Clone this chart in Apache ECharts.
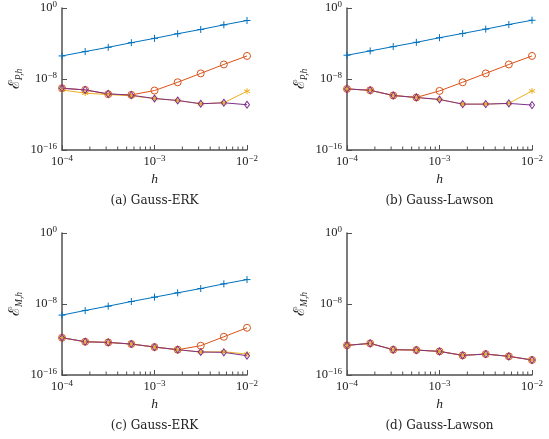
<!DOCTYPE html>
<html>
<head>
<meta charset="utf-8">
<script src="https://cdn.jsdelivr.net/npm/echarts@6/dist/echarts.min.js"></script>
<style>
  html, body { margin: 0; padding: 0; background: #fff; }
  #chart { width: 549px; height: 439px; }
</style>
</head>
<body>
<div id="chart"></div>
<script>
// step sizes h (x axis)
const hValues = [1e-4, 1.78e-4, 3.16e-4, 5.62e-4, 1e-3, 1.78e-3, 3.16e-3, 5.62e-3, 1e-2];
const minorTicks = [2e-4, 3e-4, 4e-4, 5e-4, 6e-4, 7e-4, 8e-4, 9e-4,
                    2e-3, 3e-3, 4e-3, 5e-3, 6e-3, 7e-3, 8e-3, 9e-3];

// (a) Gauss-ERK, position error
const aBlue   = [3.98e-6, 1.23e-5, 3.72e-5, 1.23e-4, 3.80e-4, 1.26e-3, 3.80e-3, 1.26e-2, 3.89e-2];
const aOrange = [9.12e-10, 5.89e-10, 1.95e-10, 1.62e-10, 5.01e-10, 4.27e-9, 4.27e-8, 4.37e-7, 3.98e-6];
const aYellow = [5.89e-10, 2.51e-10, 1.78e-10, 1.26e-10, 6.31e-11, 3.80e-11, 1.62e-11, 2.09e-11, 4.17e-10];
const aPurple = [9.12e-10, 5.89e-10, 2.14e-10, 1.51e-10, 6.31e-11, 3.80e-11, 1.62e-11, 2.09e-11, 1.26e-11];

// (b) Gauss-Lawson, position error
const bBlue   = [4.79e-6, 1.45e-5, 4.47e-5, 1.35e-4, 4.47e-4, 1.35e-3, 4.17e-3, 1.38e-2, 4.17e-2];
const bOrange = [7.59e-10, 5.37e-10, 1.38e-10, 8.32e-11, 4.57e-10, 4.27e-9, 4.27e-8, 4.37e-7, 3.98e-6];
const bYellow = [7.59e-10, 5.37e-10, 1.38e-10, 8.32e-11, 4.90e-11, 1.48e-11, 1.48e-11, 1.78e-11, 4.57e-10];
const bPurple = [7.59e-10, 5.37e-10, 1.38e-10, 8.32e-11, 4.90e-11, 1.48e-11, 1.48e-11, 1.78e-11, 1.15e-11];

// (c) Gauss-ERK, momentum error
const cBlue   = [5.62e-10, 1.86e-9, 5.75e-9, 1.91e-8, 5.89e-8, 1.82e-7, 5.50e-7, 1.86e-6, 5.62e-6];
const cOrange = [1.58e-12, 5.62e-13, 4.68e-13, 3.09e-13, 1.41e-13, 7.08e-14, 2.00e-13, 2.04e-12, 2.09e-11];
const cYellow = [1.58e-12, 5.62e-13, 4.68e-13, 3.09e-13, 1.41e-13, 7.08e-14, 3.89e-14, 4.17e-14, 2.29e-14];
const cPurple = [1.58e-12, 5.62e-13, 4.68e-13, 3.09e-13, 1.41e-13, 7.08e-14, 3.89e-14, 3.55e-14, 1.48e-14];

// (d) Gauss-Lawson, momentum error
const dOrange = [2.19e-13, 3.63e-13, 7.08e-14, 6.46e-14, 4.57e-14, 1.62e-14, 2.29e-14, 1.26e-14, 4.90e-15];
const dYellow = [2.19e-13, 3.63e-13, 7.08e-14, 6.46e-14, 4.57e-14, 1.62e-14, 2.29e-14, 1.26e-14, 4.90e-15];
const dPurple = [2.19e-13, 3.63e-13, 7.08e-14, 6.46e-14, 4.57e-14, 1.62e-14, 2.29e-14, 1.26e-14, 4.90e-15];

const captions = ['(a) Gauss-ERK', '(b) Gauss-Lawson', '(c) Gauss-ERK', '(d) Gauss-Lawson'];
const yNames = ['P,h', 'P,h', 'M,h', 'M,h'];

const BLUE = '#0072BD', ORANGE = '#D95319', YELLOW = '#EDB120', PURPLE = '#7E2F8E';
const AXIS = '#505050';
const SERIF = 'Liberation Serif, DejaVu Serif, serif';

const panels = [
  { left: 62, top: 7, height: 143, data: [aBlue, aOrange, aYellow, aPurple] },
  { left: 347, top: 7, height: 143, data: [bBlue, bOrange, bYellow, bPurple] },
  { left: 62, top: 233, height: 142, data: [cBlue, cOrange, cYellow, cPurple] },
  { left: 347, top: 233, height: 142, data: [null, dOrange, dYellow, dPurple] }
];

const pow10 = v => {
  const e = Math.round(Math.log10(v));
  return '{b|10}{s|' + String(e).replace('-', '\u2212') + '}';
};
const labelRich = {
  b: { fontFamily: SERIF, fontSize: 12.5, color: '#222' },
  s: { fontFamily: SERIF, fontSize: 9, color: '#222', padding: [0, 0, 7, 0] }
};

const toPoints = vals => hValues.map((h, i) => [h, vals[i]]);

const plus = 'path://M0,-1V1M-1,0H1';
const star = 'path://M0,-1V1M-0.87,-0.5L0.87,0.5M-0.87,0.5L0.87,-0.5';

const grid = [], xAxis = [], yAxis = [], series = [], graphic = [];

panels.forEach((p, k) => {
  grid.push({ left: p.left, top: p.top, width: 185, height: p.height });
  xAxis.push({
    type: 'log', gridIndex: k, min: 1e-4, max: 1e-2, interval: 1,
    name: 'h', nameLocation: 'middle', nameGap: 22,
    nameTextStyle: { fontFamily: SERIF, fontStyle: 'italic', fontSize: 13.5, color: '#222' },
    axisLine: { lineStyle: { color: AXIS, width: 1.5 } },
    axisTick: { inside: true, length: 5, lineStyle: { color: AXIS } },
    axisLabel: { formatter: pow10, rich: labelRich, margin: 4 },
    splitLine: { show: false }
  });
  yAxis.push({
    type: 'log', gridIndex: k, min: 1e-16, max: 1, interval: 8,
    name: '{e|\u2130}{s|' + yNames[k] + '}', nameLocation: 'middle', nameRotate: 90, nameGap: 38,
    nameTextStyle: {
      rich: {
        e: { fontFamily: 'DejaVu Serif', fontSize: 15, color: '#222' },
        s: { fontFamily: SERIF, fontStyle: 'italic', fontSize: 9.5, color: '#222', padding: [7, 0, 0, 0] }
      }
    },
    axisLine: { lineStyle: { color: AXIS, width: 1.5 } },
    axisTick: { inside: true, length: 5, lineStyle: { color: AXIS } },
    axisLabel: { formatter: pow10, rich: labelRich, margin: 5 },
    splitLine: { show: false }
  });

  // minor ticks on the h axis
  series.push({
    type: 'custom', xAxisIndex: k, yAxisIndex: k, silent: true, clip: false,
    data: minorTicks.map(v => [v, 1e-16]),
    renderItem: (params, api) => {
      const pt = api.coord([api.value(0), api.value(1)]);
      return { type: 'line', shape: { x1: pt[0], y1: pt[1], x2: pt[0], y2: pt[1] - 3.5 },
               style: { stroke: AXIS, lineWidth: 1 } };
    }
  });

  const [blue, orange, yellow, purple] = p.data;
  const common = { type: 'line', xAxisIndex: k, yAxisIndex: k, silent: true, animation: false };
  if (blue) series.push(Object.assign({}, common, {
    data: toPoints(blue), symbol: plus, symbolSize: 7,
    lineStyle: { color: BLUE, width: 1 },
    itemStyle: { color: BLUE, borderColor: BLUE, borderWidth: 1 }
  }));
  series.push(Object.assign({}, common, {
    data: toPoints(orange), symbol: 'circle', symbolSize: 7,
    lineStyle: { color: ORANGE, width: 1 },
    itemStyle: { color: 'rgba(0,0,0,0)', borderColor: ORANGE, borderWidth: 1 }
  }));
  series.push(Object.assign({}, common, {
    data: toPoints(yellow), symbol: star, symbolSize: 6,
    lineStyle: { color: YELLOW, width: 1 },
    itemStyle: { color: YELLOW, borderColor: YELLOW, borderWidth: 1 }
  }));
  series.push(Object.assign({}, common, {
    data: toPoints(purple), symbol: 'diamond', symbolSize: [5, 7],
    lineStyle: { color: PURPLE, width: 1 },
    itemStyle: { color: 'rgba(0,0,0,0)', borderColor: PURPLE, borderWidth: 1 }
  }));

  graphic.push({
    type: 'text', x: p.left + 92.5, y: k < 2 ? 201 : 426,
    style: { text: captions[k], fontFamily: 'DejaVu Serif', fontSize: 12, fill: '#222',
             align: 'center', verticalAlign: 'middle' }
  });
});

const chart = echarts.init(document.getElementById('chart'));
chart.setOption({
  animation: false,
  backgroundColor: '#fff',
  grid, xAxis, yAxis, series, graphic
});
</script>
</body>
</html>
